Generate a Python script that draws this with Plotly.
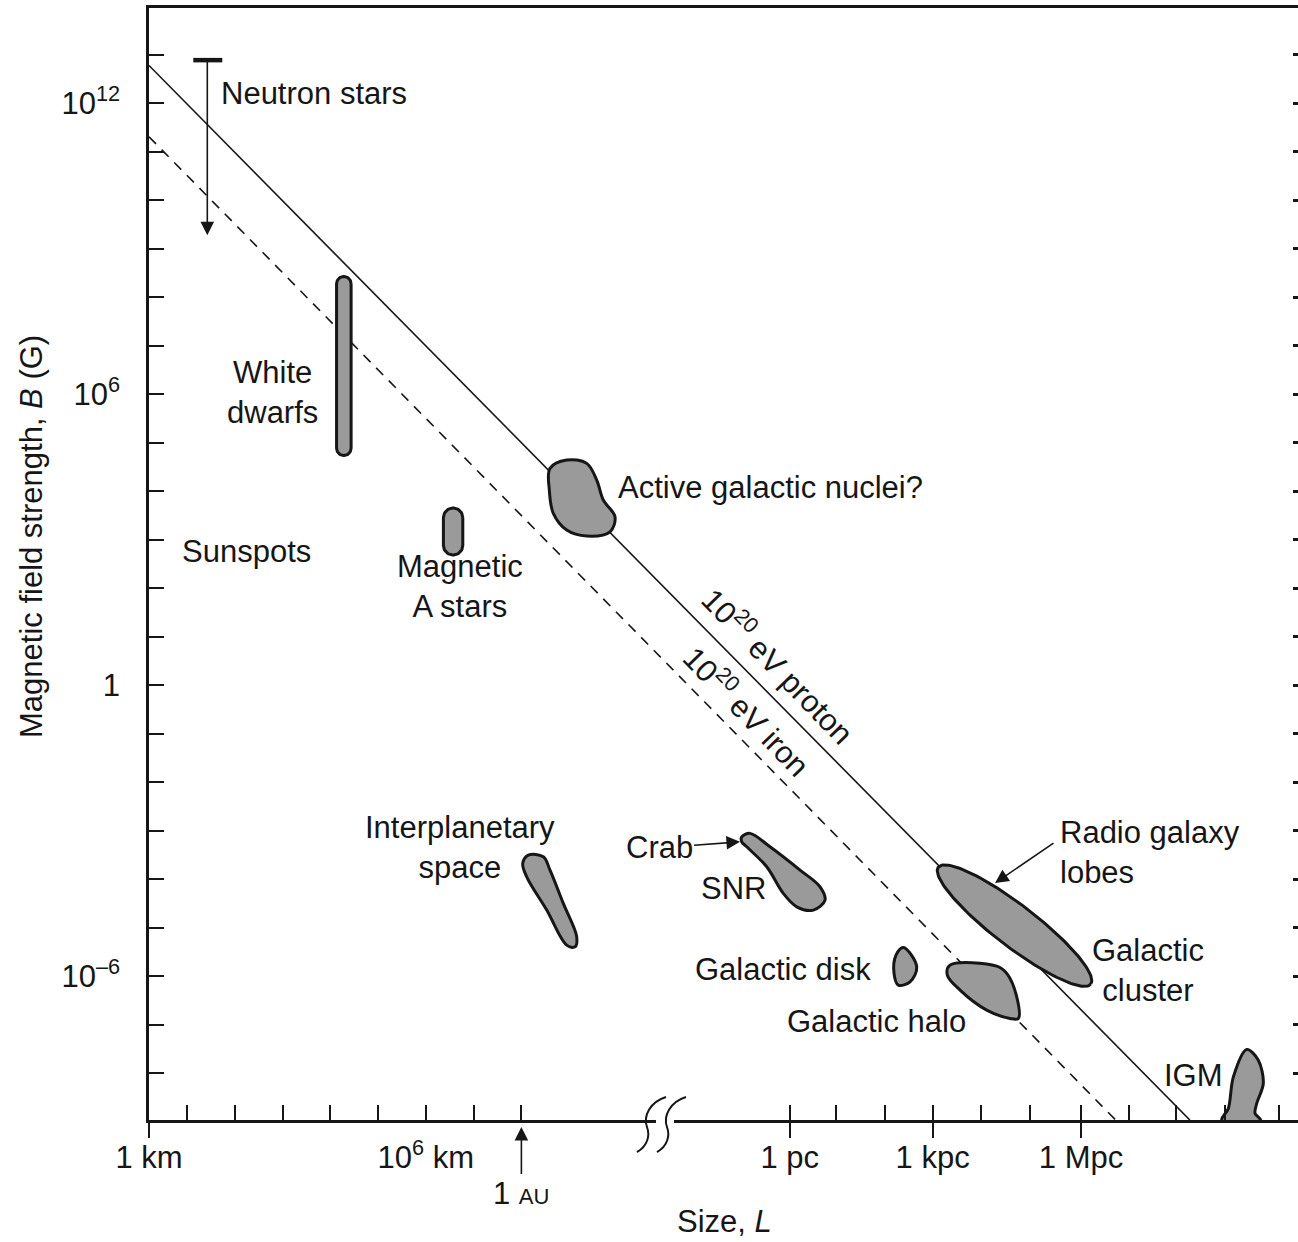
import numpy as np
import plotly.graph_objects as go

FONT = "Liberation Sans, Arial, Helvetica, sans-serif"
INK = "#161616"
FILL = "#9a9a9a"
FS = 31

# ---------------- axes ----------------
# x: position along the drawn (broken) size axis, in decades from 1 km
# y: magnetic field strength B in gauss (log axis)
x_range = [0.0, 23.69]
y_range_log = [-8.96, 13.965]

x_tick_vals = [0.0, 0.79, 1.775, 2.753, 3.732, 4.726, 5.705, 6.699, 7.678,
               13.21, 14.165, 15.169, 16.157, 17.163, 18.169, 19.216,
               20.196, 21.175, 22.186, 23.305]
x_tick_text = ["1 km", "", "", "", "", "", "10<sup>6</sup> km", "", "",
               "1 pc", "", "", "1 kpc", "", "", "1 Mpc", "", "", "", ""]
x_major_ticks = [0.0, 13.21, 16.157, 19.216]
au_x = 7.678

y_tick_exps = list(range(-8, 14))
y_tick_labels = {12: "10<sup>12</sup>", 6: "10<sup>6</sup>", 0: "1", -6: "10<sup>–6</sup>"}

# ---------------- maximum-energy lines (log10 B) ----------------
proton_x = [0.0, 21.46]
proton_logB = [12.78, -8.96]
iron_x = [0.0, 19.93]
iron_logB = [11.31, -8.96]

# ---------------- objects ----------------
agn_x = [8.268, 8.612, 9.025, 9.231, 9.367, 9.608, 9.505, 9.025, 8.612, 8.336, 8.254]
agn_logB = [4.474, 4.645, 4.577, 4.233, 3.821, 3.476, 3.167, 3.078, 3.202, 3.546, 4.027]

ips_x = [7.821, 8.130, 8.268, 8.542, 8.819, 8.784, 8.612, 8.200, 7.788, 7.705]
ips_logB = [-3.499, -3.534, -3.808, -4.495, -5.183, -5.390, -5.355, -4.633, -3.946, -3.670]

snr_x = [12.221, 12.392, 12.804, 13.423, 13.835, 13.938, 13.697, 13.355, 13.078, 12.736, 12.324, 12.221]
snr_logB = [-3.122, -3.051, -3.328, -3.808, -4.152, -4.427, -4.633, -4.565, -4.289, -3.740, -3.328, -3.225]

disk_x = [15.553, 15.829, 15.691, 15.449, 15.361, 15.402]
disk_logB = [-5.402, -5.802, -6.111, -6.179, -5.938, -5.561]

halo_x = [16.515, 17.478, 17.685, 17.891, 17.924, 17.753, 17.272, 16.722, 16.460]
halo_logB = [-5.767, -5.788, -5.938, -6.421, -6.866, -6.866, -6.695, -6.282, -5.973]

igm_x = [22.118, 22.254, 22.357, 22.633, 22.872, 22.975, 22.839, 22.804, 22.922]
igm_logB = [-8.963, -8.722, -8.070, -7.505, -7.726, -8.206, -8.619, -8.825, -8.963]

# white dwarfs / magnetic A stars: (x centre, log B low, log B high, half width)
wd_x, wd_lo, wd_hi, wd_half = 4.017, 4.74, 8.43, 0.15
ap_x, ap_lo, ap_hi, ap_half = 6.27, 2.687, 3.656, 0.20

# radio galaxy lobes: centre, semi-axes (decades), tilt (deg)
lobe_x, lobe_logB, lobe_a, lobe_b, lobe_tilt = 17.845, -4.952, 1.98, 0.43, -37.5

# neutron stars upper limit
ns_x, ns_top, ns_arrow_end = 1.202, 12.89, 9.28
ns_cap_x = [0.913, 1.511]

# text labels
lab_text = ["Neutron stars", "White<br>dwarfs", "Sunspots", "Magnetic<br>A stars",
            "Active galactic nuclei?", "Interplanetary<br>space", "SNR",
            "Radio galaxy<br>lobes", "Galactic<br>cluster", "Galactic disk",
            "Galactic halo", "IGM"]
lab_x = [1.443, 2.536, 2.0, 6.412, 9.629, 6.412, 12.041, 18.742, 20.598, 13.072, 14.99, 21.526]
lab_logB = [12.21, 6.048, 2.769, 2.048, 4.089, -3.344, -4.179, -3.447, -5.88, -5.849, -6.922, -8.035]
lab_anchor = ["left", "center", "center", "center", "left", "center", "center",
              "left", "center", "center", "center", "center"]

crab_x, crab_logB = 12.186, -3.225           # arrow tip
lobe_arrow_head = (17.443, -4.076)
lobe_arrow_tail = (18.68, -3.231)

line_label_text = ["10<sup>20</sup> eV proton", "10<sup>20</sup> eV iron"]
line_label_x = [12.99, 12.34]
line_label_logB = [0.419, -0.509]


def p(v):
    return [10.0 ** t for t in v]


def closed(xs, ys):
    return list(xs) + [xs[0]], list(ys) + [ys[0]]


def capsule(xc, lo, hi, r, n=30):
    t = np.linspace(0, np.pi, n)
    xs = np.concatenate([xc + r * np.cos(t), xc - r * np.cos(t), [xc + r]])
    ys = np.concatenate([(hi - r) + r * np.sin(t), (lo + r) - r * np.sin(t), [hi - r]])
    return xs, ys


def ellipse(xc, yc, a, b, tilt, n=160):
    t = np.linspace(0, 2 * np.pi, n)
    ang = np.radians(tilt)
    xs = xc + a * np.cos(t) * np.cos(ang) - b * np.sin(t) * np.sin(ang)
    ys = yc + a * np.cos(t) * np.sin(ang) + b * np.sin(t) * np.cos(ang)
    return xs, ys


fig = go.Figure()

# lines
fig.add_trace(go.Scatter(x=proton_x, y=p(proton_logB), mode="lines",
                         line=dict(color=INK, width=1.6), hoverinfo="skip"))
fig.add_trace(go.Scatter(x=iron_x, y=p(iron_logB), mode="lines",
                         line=dict(color=INK, width=1.6, dash="10px,8px"), hoverinfo="skip"))

blob_style = dict(mode="lines", fill="toself", fillcolor=FILL, hoverinfo="skip")

for xs, ys in [(agn_x, agn_logB), (ips_x, ips_logB), (snr_x, snr_logB),
               (disk_x, disk_logB), (halo_x, halo_logB)]:
    cx, cy = closed(xs, ys)
    fig.add_trace(go.Scatter(x=cx, y=p(cy), line=dict(color=INK, width=3, shape="spline", smoothing=1.0),
                             **blob_style))

fig.add_trace(go.Scatter(x=igm_x + [igm_x[0]], y=p(igm_logB + [igm_logB[0]]),
                         line=dict(color=INK, width=3, shape="spline", smoothing=0.9), **blob_style))

for xc, lo, hi, r in [(wd_x, wd_lo, wd_hi, wd_half), (ap_x, ap_lo, ap_hi, ap_half)]:
    xs, ys = capsule(xc, lo, hi, r)
    fig.add_trace(go.Scatter(x=xs, y=p(ys), line=dict(color=INK, width=3), **blob_style))

xs, ys = ellipse(lobe_x, lobe_logB, lobe_a, lobe_b, lobe_tilt)
fig.add_trace(go.Scatter(x=xs, y=p(ys), line=dict(color=INK, width=3), **blob_style))

# neutron-star cap
fig.add_trace(go.Scatter(x=ns_cap_x, y=p([ns_top, ns_top]), mode="lines",
                         line=dict(color=INK, width=4.5), hoverinfo="skip"))

# dummy traces for secondary axes (outside major ticks, right-hand ticks)
fig.add_trace(go.Scatter(x=[None], y=[None], xaxis="x2", yaxis="y", hoverinfo="skip"))
fig.add_trace(go.Scatter(x=[None], y=[None], xaxis="x", yaxis="y2", hoverinfo="skip"))

ann = []
for t, x, yb, anc in zip(lab_text, lab_x, lab_logB, lab_anchor):
    ann.append(dict(x=x, y=yb, xref="x", yref="y", text=t, showarrow=False,
                    xanchor=anc, yanchor="middle", align=anc,
                    font=dict(family=FONT, size=FS, color=INK)))

for t, x, yb in zip(line_label_text, line_label_x, line_label_logB):
    ann.append(dict(x=x, y=yb, xref="x", yref="y", text=t, showarrow=False, textangle=46,
                    xanchor="center", yanchor="middle", font=dict(family=FONT, size=FS, color=INK)))

ARROW = dict(arrowhead=2, arrowsize=1.7, arrowwidth=1.6, arrowcolor=INK)

# Crab label with arrow
ann.append(dict(x=crab_x, y=crab_logB, xref="x", yref="y", text="Crab", showarrow=True,
                ax=-81, ay=6, font=dict(family=FONT, size=FS, color=INK), **ARROW))
# radio lobe arrow
ann.append(dict(x=lobe_arrow_head[0], y=lobe_arrow_head[1], xref="x", yref="y",
                ax=lobe_arrow_tail[0], ay=lobe_arrow_tail[1], axref="x", ayref="y",
                text="", showarrow=True, **ARROW))
# neutron star upper limit arrow
ann.append(dict(x=ns_x, y=ns_arrow_end, xref="x", yref="y",
                ax=ns_x, ay=ns_top, axref="x", ayref="y",
                text="", showarrow=True, **ARROW))
# 1 AU marker
ann.append(dict(x=au_x, y=-0.0063, xref="x", yref="paper", text="1 <span style='font-size:22px'>AU</span>",
                showarrow=True, ax=0, ay=66, font=dict(family=FONT, size=FS, color=INK), **ARROW))
# axis titles
ann.append(dict(x=-0.1018, y=0.5243, xref="paper", yref="paper", textangle=-90,
                text="Magnetic field strength, <i>B</i> (G)", showarrow=False,
                xanchor="center", yanchor="middle", font=dict(family=FONT, size=FS, color=INK)))
ann.append(dict(x=0.5013, y=-0.0917, xref="paper", yref="paper",
                text="Size, <i>L</i>", showarrow=False,
                xanchor="center", yanchor="middle", font=dict(family=FONT, size=FS, color=INK)))

# axis-break decoration (pixel -> paper helpers)
L0, R0, T0, B0 = 149, 1298, 8, 1120


def px(x):
    return (x - L0) / (R0 - L0)


def py(y):
    return (B0 - y) / (B0 - T0)


def wiggle(x0):
    pts = [(x0, 1152), (x0 + 11, 1146), (x0 + 13, 1135), (x0 + 10, 1127),
           (x0 + 6, 1116), (x0 + 13, 1102), (x0 + 29, 1097)]
    s = "M {:.5f},{:.5f} ".format(px(pts[0][0]), py(pts[0][1]))
    s += "C {:.5f},{:.5f} {:.5f},{:.5f} {:.5f},{:.5f} ".format(px(pts[1][0]), py(pts[1][1]), px(pts[2][0]), py(pts[2][1]), px(pts[3][0]), py(pts[3][1]))
    s += "C {:.5f},{:.5f} {:.5f},{:.5f} {:.5f},{:.5f}".format(px(pts[4][0]), py(pts[4][1]), px(pts[5][0]), py(pts[5][1]), px(pts[6][0]), py(pts[6][1]))
    return s


shapes = [
    dict(type="rect", xref="paper", yref="paper", x0=px(656), x1=px(674), y0=py(1125), y1=py(1115),
         fillcolor="white", line=dict(width=0), layer="above"),
    dict(type="path", xref="paper", yref="paper", path=wiggle(637), line=dict(color=INK, width=2), layer="above"),
    dict(type="path", xref="paper", yref="paper", path=wiggle(657), line=dict(color=INK, width=2), layer="above"),
]

axis_common = dict(showgrid=False, zeroline=False)

fig.update_layout(
    width=1298, height=1242,
    margin=dict(l=L0, r=0, t=T0, b=1242 - B0, pad=0),
    paper_bgcolor="white", plot_bgcolor="white", showlegend=False,
    font=dict(family=FONT, size=FS, color=INK),
    annotations=ann, shapes=shapes,
    xaxis=dict(range=x_range, tickmode="array", tickvals=x_tick_vals, ticktext=x_tick_text,
               ticks="inside", ticklen=15, tickwidth=2, tickcolor=INK,
               showline=True, linewidth=2.5, linecolor=INK, mirror=True,
               ticklabelstandoff=8, tickfont=dict(family=FONT, size=FS, color=INK), **axis_common),
    xaxis2=dict(range=x_range, overlaying="x", anchor="y", side="bottom", tickmode="array",
                tickvals=x_major_ticks, ticks="outside", ticklen=17, tickwidth=2, tickcolor=INK,
                showticklabels=False, showline=False, **axis_common),
    yaxis=dict(type="log", range=y_range_log, tickmode="array",
               tickvals=[10.0 ** k for k in y_tick_exps],
               ticktext=[y_tick_labels.get(k, "") for k in y_tick_exps],
               ticks="inside", ticklen=15, tickwidth=2, tickcolor=INK,
               showline=True, linewidth=2.5, linecolor=INK, mirror=False,
               ticklabelstandoff=20, tickfont=dict(family=FONT, size=FS, color=INK), **axis_common),
    yaxis2=dict(type="log", range=y_range_log, overlaying="y", anchor="x", side="right", tickmode="array",
                tickvals=[10.0 ** k for k in y_tick_exps], ticks="inside", ticklen=5, tickwidth=2.5,
                tickcolor=INK, showticklabels=False, showline=False, **axis_common),
)

fig.write_html("out.html", config={"displayModeBar": False},
               post_script="document.body.style.margin='0px';")
